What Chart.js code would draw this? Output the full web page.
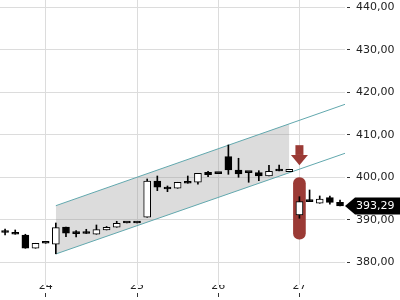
<!DOCTYPE html>
<html>
<head>
<meta charset="utf-8">
<script src="https://cdn.jsdelivr.net/npm/chart.js@4/dist/chart.umd.min.js"></script>
<style>
  html, body { margin: 0; padding: 0; background: #fff; }
  #wrap { width: 400px; height: 300px; }
</style>
</head>
<body>
<div id="wrap"><canvas id="chart"></canvas></div>
<script>
'use strict';

/* ── DATA ──────────────────────────────────────────────────────── */
var candleIdx = [0, 1, 2, 3, 4, 5, 6, 7, 8, 9, 10, 11, 12, 13, 14, 15, 16,
                 17, 18, 19, 20, 21, 22, 23, 24, 25, 26, 27, 28, 29, 30, 31, 32, 33];
var opens  = [387.05, 387.01, 386.47, 383.34, 384.52, 384.28, 388.35, 386.78, 386.82, 386.64,
              387.65, 388.28, 389.29, 389.29, 390.64, 399.18, 397.29, 397.46, 399.01, 398.87,
              401.22, 400.89, 404.89, 401.76, 401.13, 401.13, 400.35, 401.53, 401.36, 391.18,
              394.31, 393.93, 395.25, 394.16];
var highs  = [387.88, 387.65, 386.64, 384.52, 384.52, 389.29, 388.35, 387.48, 387.81, 388.82,
              388.47, 389.69, 389.29, 389.29, 399.65, 400.35, 398.00, 398.87, 400.35, 400.99,
              401.46, 400.89, 407.65, 404.52, 401.13, 401.60, 402.87, 402.94, 401.93, 395.48,
              397.06, 395.65, 395.65, 394.71];
var lows   = [386.47, 386.64, 383.34, 383.34, 384.52, 382.05, 386.07, 386.00, 386.82, 386.64,
              387.65, 388.28, 389.29, 389.29, 390.64, 396.89, 396.66, 397.46, 398.64, 398.40,
              400.19, 400.89, 400.75, 400.05, 398.87, 399.25, 400.35, 401.53, 401.36, 390.40,
              394.31, 393.93, 393.69, 393.29];
var closes = [387.05, 386.64, 383.34, 384.52, 384.52, 388.19, 386.87, 386.78, 386.82, 387.72,
              388.28, 389.22, 389.29, 389.29, 399.18, 397.69, 397.29, 398.87, 398.64, 400.99,
              400.66, 400.89, 401.76, 400.82, 401.13, 400.35, 401.46, 401.53, 401.93, 394.31,
              394.31, 394.94, 394.16, 393.29];

var dayIdx    = [4, 13, 21, 29];
var dayLabels = ['24', '25', '26', '27'];
var yTicks    = [380, 390, 400, 410, 420, 430, 440];

/* trend channel (candle index, price) */
var channelTop    = [{ x: 5, y: 393.36 }, { x: 33.5, y: 417.22 }];
var channelBottom = [{ x: 5, y: 382.00 }, { x: 33.5, y: 405.70 }];
var shadeTop      = [{ x: 5, y: 393.36 }, { x: 28, y: 412.62 }];
var shadeBottom   = [{ x: 5, y: 382.00 }, { x: 28, y: 401.14 }];

/* marker on the gap candle */
var highlightBar = [{ x: 29, y: [385.5, 400.0] }];
var arrowX = 29, arrowTail = 407.6, arrowNeck = 405.3, arrowTip = 402.9;

var lastPrice = closes[closes.length - 1];

/* ── HELPERS ───────────────────────────────────────────────────── */
var RED  = '#9b3a35';
var TEAL = '#62a8ae';

function fmt(v) { return v.toFixed(2).replace('.', ','); }

var bodies = candleIdx.map(function(i, k) { return { x: i, y: [opens[k], closes[k]] }; });
var wicks  = candleIdx.map(function(i, k) { return { x: i, y: [lows[k], highs[k]] }; });
var bodyColors = candleIdx.map(function(i, k) { return closes[k] > opens[k] ? '#ffffff' : '#000000'; });

var markerPlugin = {
  id: 'markers',
  afterDraw: function(chart) {
    var ctx = chart.ctx, xs = chart.scales.x, ys = chart.scales.y;
    ctx.save();
    /* down arrow */
    var ax = xs.getPixelForValue(arrowX);
    var yT = ys.getPixelForValue(arrowTail), yN = ys.getPixelForValue(arrowNeck), yP = ys.getPixelForValue(arrowTip);
    ctx.fillStyle = RED;
    ctx.fillRect(ax - 4, yT, 8, yN - yT);
    ctx.beginPath();
    ctx.moveTo(ax - 8.5, yN);
    ctx.lineTo(ax + 8.5, yN);
    ctx.lineTo(ax, yP);
    ctx.closePath();
    ctx.fill();

    /* last price tag */
    var y = ys.getPixelForValue(lastPrice);
    var x0 = chart.chartArea.right;
    ctx.fillStyle = '#000';
    ctx.beginPath();
    ctx.moveTo(x0, y);
    ctx.lineTo(x0 + 10, y - 8.5);
    ctx.lineTo(chart.width, y - 8.5);
    ctx.lineTo(chart.width, y + 8.5);
    ctx.lineTo(x0 + 10, y + 8.5);
    ctx.closePath();
    ctx.fill();
    ctx.fillStyle = '#fff';
    ctx.font = '11px "DejaVu Sans"';
    ctx.textBaseline = 'middle';
    ctx.textAlign = 'left';
    ctx.fillText(fmt(lastPrice), x0 + 11, y + 0.5);
    ctx.restore();
  }
};

/* ── CHART ─────────────────────────────────────────────────────── */
Chart.defaults.font.family = '"DejaVu Sans", sans-serif';
Chart.defaults.font.size = 11;
Chart.defaults.color = '#222';

new Chart(document.getElementById('chart'), {
  type: 'bar',
  data: {
    datasets: [
      { label: 'body', data: bodies, order: 0, grouped: false, barThickness: 7, minBarLength: 2,
        backgroundColor: bodyColors, borderColor: '#000', borderWidth: 1, borderSkipped: false },
      { label: 'wick', data: wicks, order: 1, grouped: false, barThickness: 1,
        backgroundColor: '#000', borderWidth: 0 },
      { label: 'highlight', data: highlightBar, order: 2, grouped: false, barThickness: 12,
        backgroundColor: RED, borderWidth: 0, borderRadius: 6, borderSkipped: false },
      { type: 'line', label: 'top', data: channelTop, order: 3, borderColor: TEAL,
        borderWidth: 1, pointRadius: 0, fill: false },
      { type: 'line', label: 'bottom', data: channelBottom, order: 3, borderColor: TEAL,
        borderWidth: 1, pointRadius: 0, fill: false },
      { type: 'line', label: 'shadeTop', data: shadeTop, order: 4, borderWidth: 0,
        pointRadius: 0, fill: '+1', backgroundColor: 'rgba(150,150,150,0.33)' },
      { type: 'line', label: 'shadeBottom', data: shadeBottom, order: 4, borderWidth: 0,
        pointRadius: 0, fill: false }
    ]
  },
  options: {
    responsive: true,
    maintainAspectRatio: false,
    animation: false,
    layout: { padding: 0 },
    plugins: { legend: { display: false }, tooltip: { enabled: false } },
    scales: {
      x: {
        type: 'linear', min: -0.5, max: 33.49, offset: false,
        afterBuildTicks: function(s) { s.ticks = dayIdx.map(function(v) { return { value: v }; }); },
        afterFit: function(s) { s.height = 15; s.paddingLeft = 0; s.paddingRight = 0; },
        grid: { offset: false, color: '#dcdcdc', tickColor: '#333', tickLength: 12,
          tickBorderDash: [0, 8, 4, 20] },
        border: { display: false },
        ticks: { padding: -17, maxRotation: 0, autoSkip: false, color: '#222',
          callback: function(v, i) { return dayLabels[i]; } }
      },
      y: {
        type: 'linear', position: 'right', min: 374.7, max: 441.76,
        afterBuildTicks: function(s) { s.ticks = yTicks.map(function(v) { return { value: v }; }); },
        afterFit: function(s) { s.width = 55; s.paddingTop = 0; s.paddingBottom = 0; },
        grid: { color: '#dcdcdc', tickColor: '#333', tickLength: 5, tickBorderDash: [0, 2, 3, 10] },
        border: { display: false },
        ticks: { padding: 6, color: '#222', callback: function(v) { return fmt(v); } }
      }
    }
  },
  plugins: [markerPlugin]
});
</script>
</body>
</html>
